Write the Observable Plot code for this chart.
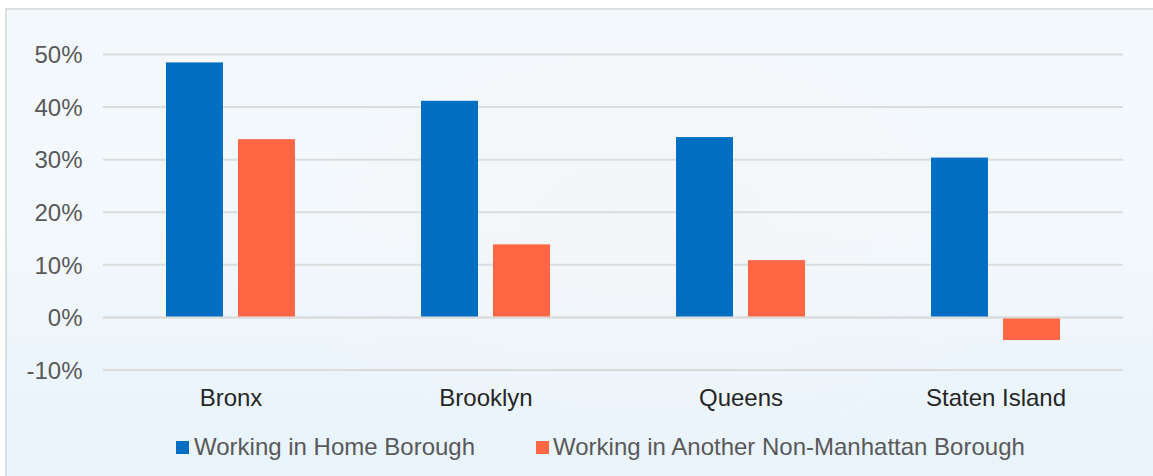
<!DOCTYPE html>
<html>
<head>
<meta charset="utf-8">
<script src="https://cdn.jsdelivr.net/npm/d3@7"></script>
<script src="https://cdn.jsdelivr.net/npm/@observablehq/plot@0.6"></script>
<style>
html,body{margin:0;padding:0;background:#fff;}
#frame{position:relative;width:1153px;height:476px;overflow:hidden;font-family:"Liberation Sans",Arial,sans-serif;}
#panel{position:absolute;left:5px;top:8px;width:1148px;height:468px;box-sizing:border-box;border-left:2px solid #dcdfe0;border-top:2px solid #dcdfe0;
background:
 radial-gradient(ellipse 380px 240px at 640px 230px,rgba(244,245,246,.6),rgba(244,245,246,0)),
 linear-gradient(180deg,#f3f8fc 0%,#f3f8fc 45%,#e8f3fc 100%);}
#chart{position:absolute;left:0;top:0;}
#chart svg{background:transparent!important;display:block;}
.lg{position:absolute;top:434px;font-size:24px;line-height:26px;color:#595959;white-space:nowrap;}
.sw{position:absolute;top:441px;width:13px;height:13px;}
</style>
</head>
<body>
<div id="frame">
<div id="panel"></div>
<div id="chart"></div>
<div id="legend"></div>
</div>
<script>
const boroughs = ["Bronx", "Brooklyn", "Queens", "Staten Island"];
const seriesNames = ["Working in Home Borough", "Working in Another Non-Manhattan Borough"];
const homeValues = [48.4, 41.1, 34.2, 30.3];
const otherValues = [33.8, 13.8, 10.8, -4.4];
const yTicks = [-10, 0, 10, 20, 30, 40, 50];
const colors = ["#006fc2", "#ff6644"];

const rows = boroughs.flatMap((b, i) => [
  {borough: b, series: seriesNames[0], value: homeValues[i]},
  {borough: b, series: seriesNames[1], value: otherValues[i]}
]);

const chart = Plot.plot({
  width: 1153,
  height: 476,
  marginLeft: 103,
  marginRight: 30,
  marginTop: 54,
  marginBottom: 106.5,
  style: {background: "transparent", fontFamily: "'Liberation Sans', Arial, sans-serif"},
  fx: {domain: boroughs, padding: 0, label: null},
  x: {domain: seriesNames, paddingInner: 0.207, paddingOuter: 0.862, axis: null, label: null},
  y: {domain: [-10, 50], label: null},
  color: {domain: seriesNames, range: colors},
  marks: [
    Plot.ruleY(yTicks, {stroke: "#dcdcdc", strokeWidth: 2}),
    Plot.barY(rows, {fx: "borough", x: "series", y: "value", fill: "series"}),
    Plot.ruleY([0], {stroke: "#dcdcdc", strokeWidth: 2}),
    Plot.axisY(yTicks, {tickSize: 0, tickPadding: 21, fontSize: 24, dy: 1, fill: "#595959", label: null, tickFormat: d => d + "%"}),
    Plot.axisFx({anchor: "bottom", tickSize: 0, tickPadding: 19, fontSize: 24, fill: "#262626", label: null})
  ]
});
document.getElementById("chart").appendChild(chart);

const legend = document.getElementById("legend");
[[176, 194], [536, 553]].forEach(([sx, tx], i) => {
  const s = document.createElement("div");
  s.className = "sw"; s.style.left = sx + "px"; s.style.background = colors[i];
  legend.appendChild(s);
  const t = document.createElement("div");
  t.className = "lg"; t.style.left = tx + "px"; t.textContent = seriesNames[i];
  legend.appendChild(t);
});
</script>
</body>
</html>
